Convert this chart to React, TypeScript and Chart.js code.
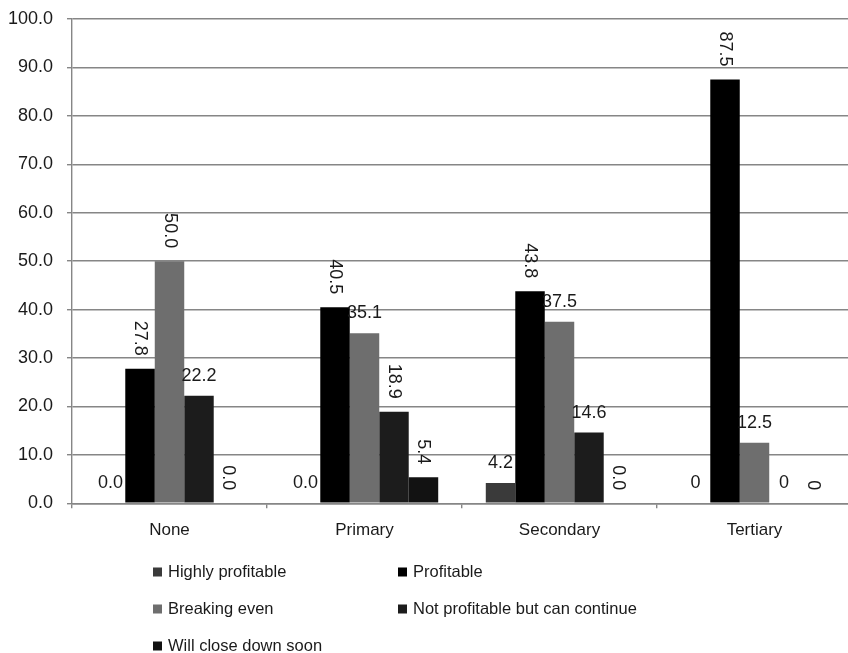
import React, { useEffect, useRef } from 'react';
import { Chart, registerables } from 'chart.js';

Chart.register(...registerables);

const categories = ['None', 'Primary', 'Secondary', 'Tertiary'];
const seriesNames = [
  'Highly profitable',
  'Profitable',
  'Breaking even',
  'Not profitable but can continue',
  'Will close down soon',
];
const highlyProfitable = [0.0, 0.0, 4.2, 0];
const profitable = [27.8, 40.5, 43.8, 87.5];
const breakingEven = [50.0, 35.1, 37.5, 12.5];
const notProfitable = [22.2, 18.9, 14.6, 0];
const willClose = [0.0, 5.4, 0.0, 0];

const labelsHighly = ['0.0', '0.0', '4.2', '0'];
const labelsProfitable = ['27.8', '40.5', '43.8', '87.5'];
const labelsBreaking = ['50.0', '35.1', '37.5', '12.5'];
const labelsNotProfitable = ['22.2', '18.9', '14.6', '0'];
const labelsWillClose = ['0.0', '5.4', '0.0', '0'];

const rotatedHighly = [false, false, false, false];
const rotatedProfitable = [true, true, true, true];
const rotatedBreaking = [true, false, false, false];
const rotatedNotProfitable = [false, true, false, false];
const rotatedWillClose = [true, true, true, true];

const seriesColors = ['#3a3a3a', '#000000', '#6e6e6e', '#1c1c1c', '#121212'];

const FONT = "'Liberation Sans', Arial, sans-serif";
const TEXT = '#1a1a1a';
const GRID = '#868686';

const valueSets = [highlyProfitable, profitable, breakingEven, notProfitable, willClose];
const labelSets = [labelsHighly, labelsProfitable, labelsBreaking, labelsNotProfitable, labelsWillClose];
const rotSets = [rotatedHighly, rotatedProfitable, rotatedBreaking, rotatedNotProfitable, rotatedWillClose];

const dataLabelPlugin = {
  id: 'dataLabels',
  afterDatasetsDraw(chart: any) {
    const ctx = chart.ctx;
    ctx.save();
    ctx.font = `18px ${FONT}`;
    ctx.fillStyle = TEXT;
    chart.data.datasets.forEach((ds: any, di: number) => {
      const meta = chart.getDatasetMeta(di);
      meta.data.forEach((el: any, i: number) => {
        const txt = labelSets[di][i];
        const rot = rotSets[di][i];
        const x = el.x;
        const y = el.y;
        if (rot) {
          ctx.save();
          ctx.translate(x, y - 13);
          ctx.rotate(Math.PI / 2);
          ctx.textAlign = 'right';
          ctx.textBaseline = 'middle';
          ctx.fillText(txt, 0, 0);
          ctx.restore();
        } else {
          ctx.textAlign = 'center';
          ctx.textBaseline = 'middle';
          ctx.fillText(txt, x, y - 20);
        }
      });
    });
    ctx.restore();
  },
};

const legendPlugin = {
  id: 'gridLegend',
  afterDraw(chart: any) {
    const ctx = chart.ctx;
    const cols = [153, 398];
    const rows = [572, 609, 646];
    ctx.save();
    ctx.font = `16.5px ${FONT}`;
    ctx.textBaseline = 'middle';
    ctx.textAlign = 'left';
    seriesNames.forEach((name, i) => {
      const cx = cols[i % 2];
      const cy = rows[Math.floor(i / 2)];
      ctx.fillStyle = seriesColors[i];
      ctx.fillRect(cx, cy - 4.5, 9, 9);
      ctx.fillStyle = TEXT;
      ctx.fillText(name, cx + 15, cy);
    });
    ctx.restore();
  },
};

export default function App() {
  const ref = useRef<HTMLCanvasElement | null>(null);
  useEffect(() => {
    if (!ref.current) return;
    const chart = new Chart(ref.current, {
      type: 'bar',
      data: {
        labels: categories,
        datasets: seriesNames.map((name, i) => ({
          label: name,
          data: valueSets[i],
          backgroundColor: seriesColors[i],
          borderWidth: 0,
          categoryPercentage: 0.756,
          barPercentage: 1,
        })),
      },
      options: {
        animation: false,
        responsive: true,
        maintainAspectRatio: false,
        layout: { padding: { top: 19, right: 8, left: 0, bottom: 0 } },
        plugins: {
          legend: { display: false },
          tooltip: { enabled: false },
        },
        scales: {
          x: {
            grid: {
              display: true,
              drawOnChartArea: false,
              drawTicks: true,
              tickLength: 5,
              color: GRID,
              lineWidth: 1.4,
              offset: true,
            },
            border: { display: true, color: GRID, width: 1.4 },
            ticks: {
              color: TEXT,
              font: { family: FONT, size: 17 },
              padding: 12,
              maxRotation: 0,
            },
            afterFit(scale: any) {
              scale.height = 653 - 503.3;
              scale.paddingLeft = 0;
              scale.paddingRight = 0;
            },
          },
          y: {
            min: 0,
            max: 100,
            grid: {
              color: GRID,
              lineWidth: 1.4,
              tickLength: 5,
              drawTicks: true,
            },
            border: { display: true, color: GRID, width: 1.4 },
            ticks: {
              stepSize: 10,
              color: TEXT,
              font: { family: FONT, size: 18 },
              padding: 14,
              callback: (v: any) => Number(v).toFixed(1),
            },
            afterFit(scale: any) {
              scale.width = 72;
              scale.paddingTop = 0;
              scale.paddingBottom = 0;
            },
          },
        },
      },
      plugins: [dataLabelPlugin, legendPlugin],
    });
    return () => chart.destroy();
  }, []);

  return (
    <div
      style={{
        position: 'fixed',
        left: 0,
        top: 0,
        width: 848,
        height: 653,
        overflow: 'hidden',
        background: '#fff',
      }}
    >
      <div style={{ position: 'relative', width: 860, height: 653 }}>
        <canvas ref={ref} />
      </div>
    </div>
  );
}
